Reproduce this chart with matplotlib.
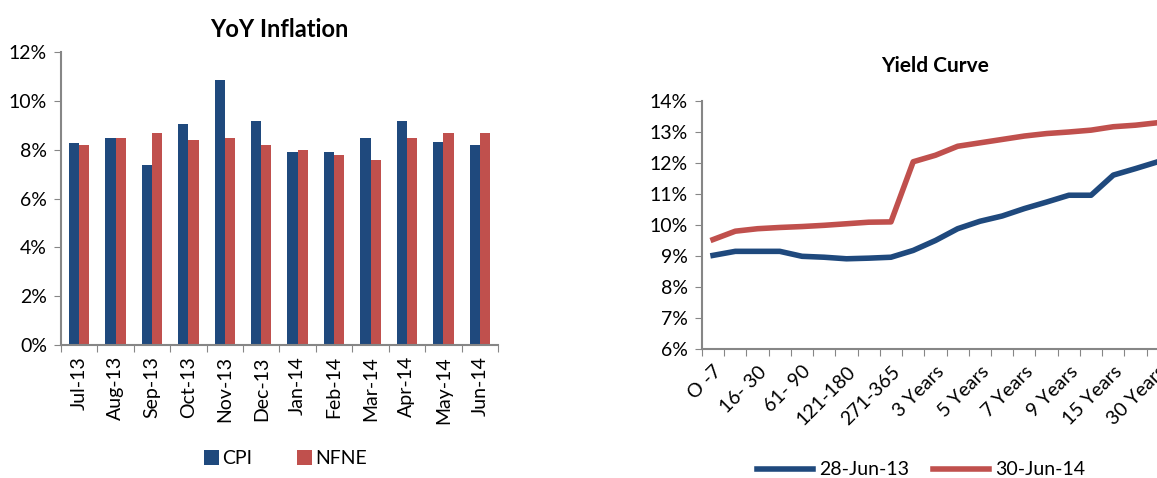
import numpy as np
import matplotlib
matplotlib.use("Agg")
import matplotlib.pyplot as plt
from matplotlib.ticker import FuncFormatter

plt.rcParams['font.family'] = ['Lato', 'DejaVu Sans']

# 인플레이션 데이터 (%)
months = ['Jul-13', 'Aug-13', 'Sep-13', 'Oct-13', 'Nov-13', 'Dec-13',
          'Jan-14', 'Feb-14', 'Mar-14', 'Apr-14', 'May-14', 'Jun-14']
cpi = [8.28, 8.49, 7.38, 9.07, 10.87, 9.18, 7.90, 7.90, 8.49, 9.18, 8.32, 8.19]
nfne = [8.19, 8.49, 8.69, 8.39, 8.49, 8.19, 7.98, 7.80, 7.57, 8.49, 8.69, 8.69]

# 수익률 곡선 데이터 (%)
tenors = ['O -7', '8-15', '16- 30', '31-60', '61- 90', '91-120', '121-180',
          '181-270', '271-365', '2 Years', '3 Years', '4 Years', '5 Years',
          '6 Years', '7 Years', '8 Years', '9 Years', '10 Years', '15 Years',
          '20 Years', '30 Years']
yc_2013 = [9.02, 9.15, 9.15, 9.15, 8.99, 8.96, 8.91, 8.93, 8.96, 9.18, 9.50,
           9.88, 10.12, 10.29, 10.53, 10.74, 10.96, 10.96, 11.61, 11.82, 12.04]
yc_2014 = [9.53, 9.80, 9.88, 9.92, 9.95, 9.99, 10.04, 10.09, 10.10, 12.04,
           12.25, 12.54, 12.65, 12.76, 12.87, 12.95, 13.00, 13.06, 13.17,
           13.22, 13.30]

BLUE = '#1F497D'
RED = '#C0504D'
GRAY = '#868686'
FS = 14
pct = FuncFormatter(lambda v, p: f'{v:.0f}%')

fig = plt.figure(figsize=(11.57, 4.78), dpi=100)

# 왼쪽: YoY Inflation
ax1 = fig.add_axes([0.0527, 0.2782, 0.3777, 0.613])
x = np.arange(len(months))
w = 0.28
ax1.bar(x - w / 2, cpi, w, color=BLUE, label='CPI')
ax1.bar(x + w / 2, nfne, w, color=RED, label='NFNE')
ax1.set_xlim(-0.5, len(months) - 0.5)
ax1.set_ylim(0, 12)
ax1.set_yticks(range(0, 13, 2))
ax1.yaxis.set_major_formatter(pct)
ax1.set_xticks(np.arange(len(months) + 1) - 0.5)
ax1.set_xticklabels([])
ax1.set_xticks(x, minor=True)
ax1.set_xticklabels(months, minor=True, rotation=90, fontsize=FS)
ax1.tick_params(axis='x', which='minor', length=0, pad=8)
ax1.tick_params(axis='x', which='major', length=5, color=GRAY)
ax1.tick_params(axis='y', length=5, color=GRAY, labelsize=FS, pad=5)
ax1.set_title('YoY Inflation', fontsize=17, fontweight='bold', pad=11)
for s in ['top', 'right']:
    ax1.spines[s].set_visible(False)
for s in ['left', 'bottom']:
    ax1.spines[s].set_color(GRAY)
    ax1.spines[s].set_linewidth(1.5)
ax1.legend(loc='center', bbox_to_anchor=(0.247, 0.04), bbox_transform=fig.transFigure,
           ncol=2, frameon=False, fontsize=FS, handlelength=0.75, handleheight=0.75,
           columnspacing=2.3, handletextpad=0.2)

# 오른쪽: Yield Curve
ax2 = fig.add_axes([0.6067, 0.2699, 0.4036, 0.5188])
xt = np.arange(len(tenors))
ax2.plot(xt, yc_2013, color=BLUE, lw=4, label='28-Jun-13')
ax2.plot(xt, yc_2014, color=RED, lw=4, label='30-Jun-14')
ax2.set_xlim(-0.5, len(tenors) - 0.5)
ax2.set_ylim(6, 14)
ax2.set_yticks(range(6, 15))
ax2.yaxis.set_major_formatter(pct)
ax2.set_xticks(np.arange(len(tenors) + 1) - 0.5)
ax2.set_xticklabels([])
ax2.set_xticks(xt[::2], minor=True)
ax2.set_xticklabels(tenors[::2], minor=True, rotation=45, ha='right',
                    rotation_mode='anchor', fontsize=FS)
ax2.tick_params(axis='x', which='minor', length=0, pad=10)
ax2.tick_params(axis='x', which='major', length=5, color=GRAY)
ax2.tick_params(axis='y', length=5, color=GRAY, labelsize=FS, pad=5)
ax2.set_title('Yield Curve', fontsize=15, fontweight='bold', pad=21)
for s in ['top', 'right']:
    ax2.spines[s].set_visible(False)
for s in ['left', 'bottom']:
    ax2.spines[s].set_color(GRAY)
    ax2.spines[s].set_linewidth(1.5)
ax2.legend(loc='center', bbox_to_anchor=(0.796, 0.017), bbox_transform=fig.transFigure,
           ncol=2, frameon=False, fontsize=FS, handlelength=2.9,
           columnspacing=1.2, handletextpad=0.3)

plt.savefig('out.png', dpi=100)
